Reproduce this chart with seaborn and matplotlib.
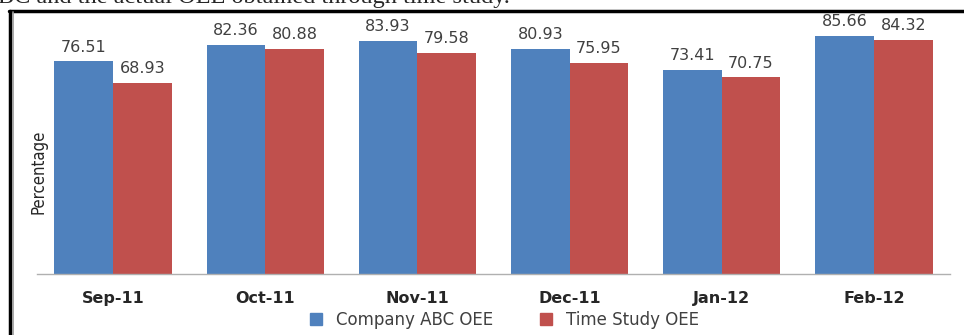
import pandas as pd
import numpy as np
import matplotlib
matplotlib.use("Agg")
import matplotlib.pyplot as plt
import seaborn as sns
from matplotlib.lines import Line2D

months = ["Sep-11", "Oct-11", "Nov-11", "Dec-11", "Jan-12", "Feb-12"]
company_oee = [76.51, 82.36, 83.93, 80.93, 73.41, 85.66]
study_oee = [68.93, 80.88, 79.58, 75.95, 70.75, 84.32]
series = ["Company ABC OEE", "Time Study OEE"]
colors = ["#4F81BD", "#C0504D"]

df = pd.DataFrame({
    "Month": months * 2,
    "OEE": company_oee + study_oee,
    "Series": [series[0]] * len(months) + [series[1]] * len(months),
})

sns.set_style("white")
plt.rcParams["font.family"] = ["DejaVu Sans"]

fig = plt.figure(figsize=(9.64, 3.35), dpi=100)
ax = fig.add_axes([37 / 964, 1 - 274 / 335, 913 / 964, 250 / 335])

sns.barplot(data=df, x="Month", y="OEE", hue="Series", palette=colors,
            width=0.77, saturation=1, linewidth=0, ax=ax, legend=False)

ax.set_ylim(0, 90)
ax.set_xlim(-0.5, 5.5)
ax.set_yticks([])
ax.set_xlabel("")
ax.set_ylabel("Percentage", family=["DejaVu Sans"], fontstretch="condensed",
              fontsize=12)
ax.yaxis.set_label_coords(0.012, 0.41)
for s in ["top", "right", "left"]:
    ax.spines[s].set_visible(False)
ax.spines["bottom"].set_color("#b0b0b0")
ax.spines["bottom"].set_linewidth(1)
ax.tick_params(axis="x", length=0, pad=12)
for lbl in ax.get_xticklabels():
    lbl.set_fontweight("bold")
    lbl.set_fontsize(11.5)

for cont in ax.containers:
    ax.bar_label(cont, labels=[f"{v:.2f}" for v in cont.datavalues],
                 padding=5, fontsize=11.5, color="#404040")

handles = [Line2D([], [], marker="s", linestyle="", markersize=9,
                  markerfacecolor=c, markeredgecolor=c) for c in colors]
fig.legend(handles, series, loc="center", bbox_to_anchor=(499 / 964, 1 - 320 / 335),
           ncol=2, frameon=False, fontsize=12, handletextpad=0.2,
           columnspacing=2.2, labelcolor="#404040")

# frame of the surrounding page
fig.add_artist(Line2D([9 / 964, 1], [1 - 10.5 / 335, 1 - 10.5 / 335],
                      transform=fig.transFigure, color="black", linewidth=2.5))
fig.add_artist(Line2D([9.5 / 964, 9.5 / 964], [0, 1 - 10.5 / 335],
                      transform=fig.transFigure, color="black", linewidth=2.5))
fig.add_artist(Line2D([12.5 / 964, 12.5 / 964], [0, 1 - 12 / 335],
                      transform=fig.transFigure, color="#999999", linewidth=1.2))

fig.text(-2 / 964, 1 - 3 / 335, "BC and the actual OEE obtained through time study.",
         family=["Liberation Serif", "DejaVu Serif"], fontsize=17.5,
         va="baseline", ha="left")

fig.savefig("out.png", dpi=100)
